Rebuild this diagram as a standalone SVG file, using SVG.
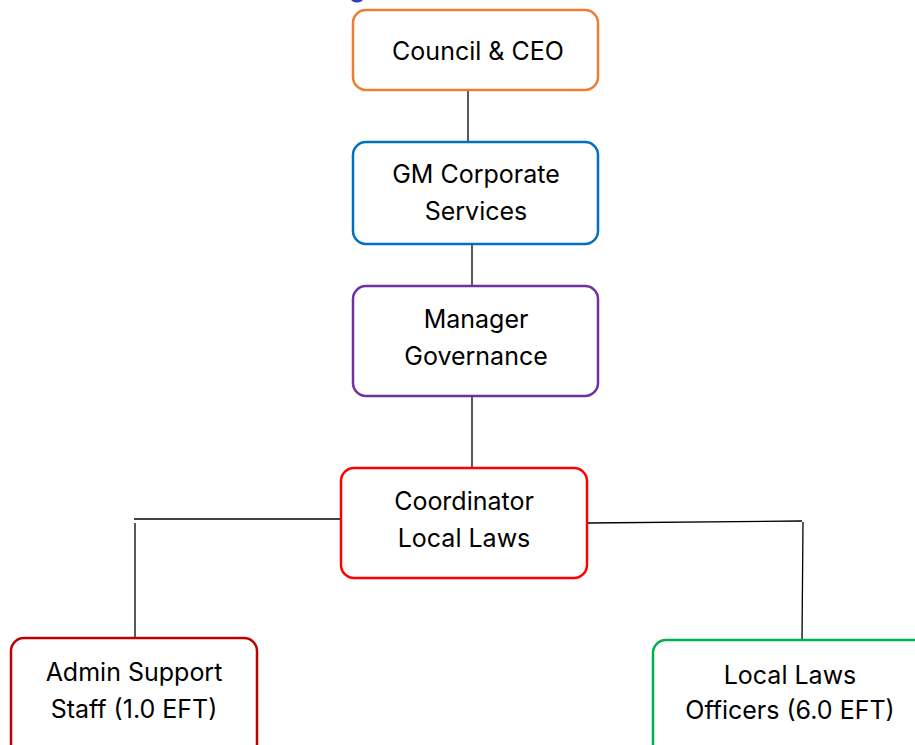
<svg xmlns="http://www.w3.org/2000/svg" width="915" height="745" viewBox="0 0 915 745">
<style>
.box{fill:#fff;stroke-width:2.5}
.t{font-family:Inter,"Open Sans",sans-serif;font-size:25px;fill:#000;text-anchor:middle}
.c{stroke:#000;stroke-width:1.3;fill:none}
</style>
<rect width="915" height="745" fill="#fff"/>
<ellipse cx="357" cy="-1" rx="6" ry="3.5" fill="#3a3ab8"/>
<g id="connectors">
<line class="c" x1="468" y1="90" x2="468" y2="142"/>
<line class="c" x1="472" y1="244" x2="472" y2="286"/>
<line class="c" x1="472" y1="396" x2="472" y2="468"/>
<line class="c" x1="134" y1="519" x2="341" y2="519" stroke="#333"/>
<line class="c" x1="135" y1="523" x2="135" y2="640"/>
<line class="c" x1="588" y1="523" x2="802" y2="521" stroke="#333"/>
<line class="c" x1="803" y1="522" x2="802" y2="640"/>
</g>
<g id="council">
<rect class="box" x="353" y="10" width="245" height="80" rx="13" stroke="#ED7D31"/>
<text class="t" x="478" y="60">Council &amp; CEO</text>
</g>
<g id="gm">
<rect class="box" x="353" y="142" width="245" height="102" rx="13" stroke="#0070C0"/>
<text class="t" x="476" y="183">GM Corporate</text>
<text class="t" x="476" y="220">Services</text>
</g>
<g id="manager">
<rect class="box" x="353" y="286" width="245" height="110" rx="13" stroke="#7030A0"/>
<text class="t" x="476" y="328">Manager</text>
<text class="t" x="476" y="365">Governance</text>
</g>
<g id="coordinator">
<rect class="box" x="341" y="468" width="246" height="110" rx="13" stroke="#FF0000"/>
<text class="t" x="464" y="510">Coordinator</text>
<text class="t" x="464" y="547">Local Laws</text>
</g>
<g id="admin">
<rect class="box" x="11" y="638" width="246" height="120" rx="13" stroke="#C00000"/>
<text class="t" x="134" y="681">Admin Support</text>
<text class="t" x="134" y="718">Staff (1.0 EFT)</text>
</g>
<g id="officers">
<rect class="box" x="653" y="640" width="275" height="120" rx="13" stroke="#00B050"/>
<text class="t" x="790" y="684">Local Laws</text>
<text class="t" x="790" y="719">Officers (6.0 EFT)</text>
</g>
</svg>
